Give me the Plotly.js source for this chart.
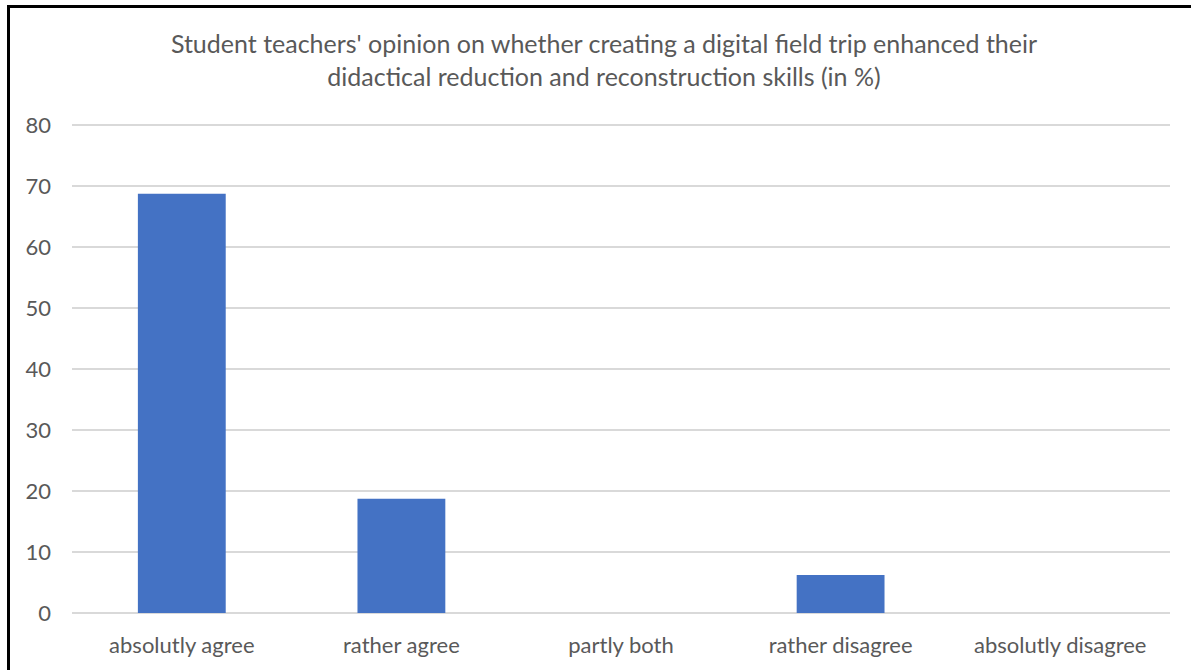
<!DOCTYPE html>
<html>
<head>
<meta charset="utf-8">
<script src="https://cdn.plot.ly/plotly-3.0.1.min.js"></script>
<style>
  html, body { margin: 0; padding: 0; background: #fff; }
  #chart { position: absolute; left: 0; top: 0; width: 1191px; height: 670px; }
  #frame { position: absolute; left: 7px; top: 5px; width: 1200px; height: 700px;
           border-left: 3px solid #000; border-top: 3px solid #000; pointer-events: none; }
</style>
</head>
<body>
<div id="chart"></div>
<div id="frame"></div>
<script>
// Survey answers, share of respondents in percent
const categories = ['absolutly agree', 'rather agree', 'partly both', 'rather disagree', 'absolutly disagree'];
const percentages = [68.75, 18.75, 0, 6.25, 0];
const yTicks = [0, 10, 20, 30, 40, 50, 60, 70, 80];

const textColor = '#595959';
const fontFamily = 'Lato, "Open Sans", sans-serif';

const trace = {
  type: 'bar',
  x: categories,
  y: percentages,
  marker: { color: '#4472c4' },
  hoverinfo: 'x+y'
};

const layout = {
  width: 1191,
  height: 670,
  margin: { l: 72, r: 21, t: 124, b: 57 },
  paper_bgcolor: '#ffffff',
  plot_bgcolor: '#ffffff',
  bargap: 0.6,
  showlegend: false,
  font: { family: fontFamily, color: textColor, size: 22 },
  title: {
    text: "Student teachers' opinion on whether creating a digital field trip enhanced their<br>didactical reduction and reconstruction skills (in %)",
    font: { family: fontFamily, color: textColor, size: 25 },
    x: 604 / 1191,
    xanchor: 'center',
    xref: 'container',
    yref: 'container',
    y: 1 - 53 / 670,
    yanchor: 'top'
  },
  xaxis: {
    type: 'category',
    showgrid: false,
    showline: false,
    ticks: '',
    ticklabelstandoff: 17,
    tickfont: { family: fontFamily, color: textColor, size: 22 }
  },
  yaxis: {
    range: [0, 80.2],
    tickvals: yTicks,
    ticktext: yTicks.map(String),
    showgrid: true,
    gridcolor: '#d9d9d9',
    gridwidth: 2,
    zeroline: true,
    zerolinecolor: '#d9d9d9',
    zerolinewidth: 2,
    showline: false,
    ticks: '',
    ticklabelstandoff: 20,
    tickfont: { family: fontFamily, color: textColor, size: 22 }
  }
};

Plotly.newPlot('chart', [trace], layout, { displayModeBar: false, staticPlot: true });
</script>
</body>
</html>
